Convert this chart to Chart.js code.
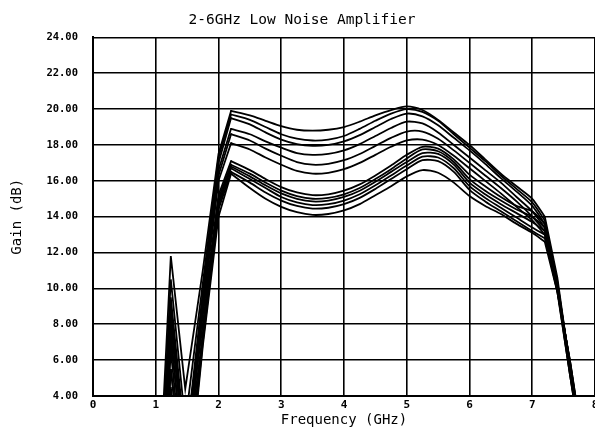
<!DOCTYPE html>
<html>
<head>
<meta charset="utf-8">
<script src="https://cdn.jsdelivr.net/npm/chart.js@4.4.1/dist/chart.umd.min.js"></script>
<style>
    html, body { margin: 0; padding: 0; background: #fff; }
</style>
</head>
<body>
<canvas id="lna-chart" width="595" height="433"></canvas>
<script>
// frequency points (GHz), shared by every sweep
const freqs = [1.0, 1.24, 1.47, 1.75, 2.0, 2.2, 2.5, 2.75, 3.0, 3.25, 3.5, 3.75, 4.0, 4.25, 4.5,
               4.75, 5.0, 5.25, 5.5, 5.75, 6.0, 6.25, 6.5, 6.75, 7.0, 7.2, 7.4, 7.6, 7.8];

// upper bundle of gain sweeps (dB)
const upper1 = [-5, 11.8, 4.4, 11.0, 17.5, 19.9, 19.65, 19.35, 19.05, 18.85, 18.8, 18.85, 19.0, 19.3, 19.65, 19.95, 20.15, 19.95, 19.4, 18.7, 18.0, 17.2, 16.4, 15.7, 15.0, 14.0, 10.6, 5.6, 1.0];
const upper2 = [-6, 10.5, 2.5, 10.3, 17.3, 19.7, 19.4, 19.0, 18.6, 18.35, 18.25, 18.3, 18.5, 18.9, 19.35, 19.75, 20.0, 19.85, 19.35, 18.6, 17.85, 17.1, 16.3, 15.55, 14.8, 13.8, 10.4, 5.5, 1.0];
const upper3 = [-7, 9.0, 1.0, 9.8, 17.0, 19.5, 19.15, 18.7, 18.3, 18.05, 17.95, 18.0, 18.2, 18.55, 19.0, 19.45, 19.75, 19.6, 19.1, 18.4, 17.7, 16.95, 16.15, 15.4, 14.6, 13.6, 10.2, 5.4, 0.9];
const upper4 = [-6, 8.0, 0.5, 9.5, 16.6, 18.9, 18.6, 18.2, 17.85, 17.55, 17.45, 17.5, 17.7, 18.05, 18.5, 18.95, 19.3, 19.2, 18.7, 18.0, 17.3, 16.6, 15.9, 15.1, 14.3, 13.4, 10.0, 5.3, 0.9];
const upper5 = [-8, 7.0, 0.0, 9.2, 16.3, 18.6, 18.25, 17.8, 17.4, 17.05, 16.9, 16.95, 17.15, 17.5, 17.95, 18.4, 18.75, 18.75, 18.35, 17.7, 17.0, 16.3, 15.6, 14.85, 14.0, 13.2, 9.9, 5.2, 0.8];
const upper6 = [-9, 5.5, -1.0, 8.8, 16.0, 18.1, 17.75, 17.3, 16.9, 16.55, 16.4, 16.45, 16.65, 17.0, 17.45, 17.9, 18.25, 18.3, 18.0, 17.4, 16.7, 16.0, 15.3, 14.55, 13.8, 13.0, 9.8, 5.2, 0.8];

// lower bundle of gain sweeps (dB)
const lower1 = [-6, 9.5, 1.5, 8.5, 15.2, 17.1, 16.6, 16.1, 15.65, 15.35, 15.2, 15.25, 15.45, 15.8, 16.3, 16.85, 17.45, 17.9, 17.8, 17.2, 16.35, 15.7, 15.1, 14.6, 14.3, 13.6, 10.3, 5.8, 1.2];
const lower2 = [-7, 8.5, 0.5, 8.0, 15.0, 16.9, 16.4, 15.9, 15.45, 15.15, 15.0, 15.05, 15.25, 15.6, 16.1, 16.65, 17.25, 17.75, 17.65, 17.05, 16.1, 15.45, 14.9, 14.4, 14.0, 13.4, 10.2, 5.8, 1.2];
const lower3 = [-8, 7.5, -0.5, 7.5, 14.8, 16.8, 16.25, 15.75, 15.3, 15.0, 14.85, 14.9, 15.1, 15.45, 15.95, 16.5, 17.05, 17.55, 17.5, 16.9, 15.9, 15.25, 14.7, 14.2, 13.7, 13.2, 10.1, 5.9, 1.3];
const lower4 = [-8, 6.5, -1.5, 7.2, 14.6, 16.7, 16.1, 15.6, 15.1, 14.8, 14.65, 14.7, 14.9, 15.25, 15.75, 16.3, 16.85, 17.35, 17.3, 16.7, 15.7, 15.05, 14.5, 13.95, 13.4, 13.0, 10.0, 5.9, 1.3];
const lower5 = [-9, 5.5, -2.5, 7.0, 14.4, 16.5, 15.9, 15.35, 14.9, 14.6, 14.45, 14.5, 14.7, 15.05, 15.55, 16.1, 16.65, 17.15, 17.1, 16.5, 15.5, 14.85, 14.3, 13.75, 13.2, 12.8, 9.9, 6.0, 1.4];
const lower6 = [-10, 4.5, -3.0, 6.8, 14.0, 16.4, 15.6, 15.0, 14.55, 14.25, 14.1, 14.15, 14.35, 14.7, 15.2, 15.7, 16.25, 16.6, 16.45, 15.9, 15.15, 14.6, 14.15, 13.6, 13.1, 12.6, 9.8, 6.0, 1.5];

const sweeps = [upper1, upper2, upper3, upper4, upper5, upper6,
                lower1, lower2, lower3, lower4, lower5, lower6];

// each sweep is drawn in three pieces so the corners at 2.2 and 7.2 GHz stay sharp
// [first index, last index, tension]
const pieces = [[0, 5, 0], [5, 25, 0.25], [25, 28, 0]];

const plotFont = '"DejaVu Sans Mono", "Liberation Mono", monospace';

const datasets = [];
sweeps.forEach(gains => {
    pieces.forEach(([from, to, tension]) => {
        const pts = [];
        for (let i = from; i <= to; i++) pts.push({ x: freqs[i], y: gains[i] });
        datasets.push({
            data: pts,
            borderColor: '#000',
            borderWidth: 1.8,
            borderCapStyle: 'round',
            borderJoinStyle: 'miter',
            pointRadius: 0,
            tension,
            fill: false
        });
    });
});

new Chart(document.getElementById('lna-chart'), {
    type: 'line',
    data: { datasets },
    options: {
        responsive: false,
        animation: false,
        layout: { padding: { left: 9, right: 0, top: 0, bottom: 0 } },
        plugins: {
            legend: { display: false },
            tooltip: { enabled: false },
            title: {
                display: true,
                text: '2-6GHz Low Noise Amplifier',
                color: '#000',
                font: { family: plotFont, size: 14.5, weight: 'normal' },
                padding: { top: 12, bottom: 8 }
            }
        },
        scales: {
            x: {
                type: 'linear',
                min: 0,
                max: 8,
                grid: { color: '#000', lineWidth: 1.6, drawTicks: false },
                border: { color: '#000', width: 2 },
                ticks: {
                    stepSize: 1,
                    color: '#000',
                    padding: 3,
                    font: { family: plotFont, size: 11, weight: 'bold' }
                },
                title: {
                    display: true,
                    text: 'Frequency (GHz)',
                    color: '#000',
                    font: { family: plotFont, size: 14 },
                    padding: { top: 0, bottom: 4 }
                },
                afterFit(scale) {
                    scale.height = 37;
                    scale.paddingLeft = 0;
                    scale.paddingRight = 0;
                }
            },
            y: {
                min: 4,
                max: 24,
                grid: { color: '#000', lineWidth: 1.6, drawTicks: false },
                border: { color: '#000', width: 2 },
                ticks: {
                    stepSize: 2,
                    color: '#000',
                    padding: 15,
                    font: { family: plotFont, size: 10.5, weight: 'bold' },
                    callback: value => value.toFixed(2)
                },
                title: {
                    display: true,
                    text: 'Gain (dB)',
                    color: '#000',
                    font: { family: plotFont, size: 14 },
                    padding: 0
                },
                afterFit(scale) {
                    scale.width = 84;
                    scale.paddingTop = 0;
                    scale.paddingBottom = 0;
                }
            }
        }
    }
});
</script>
</body>
</html>
